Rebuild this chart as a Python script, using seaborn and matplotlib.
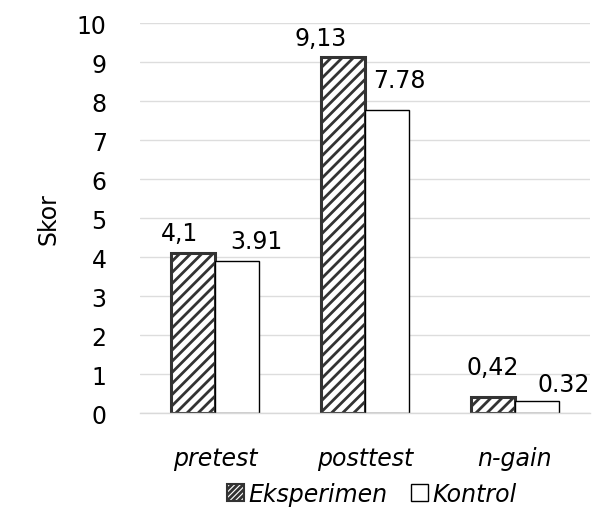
import pandas as pd
import numpy as np
import matplotlib
matplotlib.use('Agg')
import matplotlib.pyplot as plt
import seaborn as sns
from matplotlib.patches import Patch

# data
kategori = ['pretest', 'posttest', 'n-gain']
kelompok = ['Eksperimen', 'Kontrol']
skor_eksperimen = [4.1, 9.13, 0.42]
skor_kontrol = [3.91, 7.78, 0.32]
label_eksperimen = ['4,1', '9,13', '0,42']   # koma desimal seperti aslinya
label_kontrol = ['3.91', '7.78', '0.32']

df = pd.DataFrame({
    'kategori': kategori * 2,
    'kelompok': [kelompok[0]] * 3 + [kelompok[1]] * 3,
    'skor': skor_eksperimen + skor_kontrol,
})

sns.set_style('white')
plt.rcParams['font.family'] = ['DejaVu Sans']
plt.rcParams['text.color'] = 'black'
plt.rcParams['xtick.color'] = 'black'
plt.rcParams['ytick.color'] = 'black'
plt.rcParams['axes.labelcolor'] = 'black'
plt.rcParams['hatch.linewidth'] = 2.0
plt.rcParams['hatch.color'] = '#222222'

fig = plt.figure(figsize=(6, 5.1), dpi=100)
ax = fig.add_axes([0.2333, 0.1882, 0.75, 0.7647])

sns.barplot(data=df, x='kategori', y='skor', hue='kelompok', order=kategori,
            hue_order=kelompok, width=0.59, gap=0, legend=False, ax=ax,
            palette=['white', 'white'], saturation=1, errorbar=None)

# gaya batang
for bar in ax.containers[0]:
    bar.set_hatch('///')
    bar.set_edgecolor('#333333')
    bar.set_linewidth(2.2)
for bar in ax.containers[1]:
    bar.set_edgecolor('black')
    bar.set_linewidth(1.0)

# label nilai (posisi digeser manual seperti di Excel)
geser_eks = [(-13, 8), (-22, 7), (0, 18)]
geser_kon = [(19, 8), (12, 18), (27, 5)]
for bar, lab, (dx, dy) in zip(ax.containers[0], label_eksperimen, geser_eks):
    ax.annotate(lab, (bar.get_x() + bar.get_width() / 2, bar.get_height()),
                xytext=(dx, dy), textcoords='offset pixels', ha='center', va='bottom', fontsize=17)
for bar, lab, (dx, dy) in zip(ax.containers[1], label_kontrol, geser_kon):
    ax.annotate(lab, (bar.get_x() + bar.get_width() / 2, bar.get_height()),
                xytext=(dx, dy), textcoords='offset pixels', ha='center', va='bottom', fontsize=17)

ax.set_ylim(0, 10)
ax.set_xlim(-0.5, 2.5)
ax.set_yticks(range(0, 11))
ax.yaxis.grid(True, color='#dddddd', linewidth=1.0)
ax.set_axisbelow(True)
for s in ['top', 'right', 'left']:
    ax.spines[s].set_visible(False)
ax.spines['bottom'].set_color('#d9d9d9')
ax.spines['bottom'].set_linewidth(1.0)
ax.tick_params(axis='y', length=0, labelsize=17, pad=24)
ax.tick_params(axis='x', length=0, labelsize=17, pad=24)
for t in ax.get_xticklabels():
    t.set_style('italic')
ax.set_xlabel('')
ax.set_ylabel('Skor', fontsize=17, labelpad=12)

handles = [Patch(facecolor='white', edgecolor='#333333', hatch='//////', linewidth=1.5),
           Patch(facecolor='white', edgecolor='black', linewidth=1.0)]
leg = fig.legend(handles, kelompok, loc='center', bbox_to_anchor=(0.62, 0.03), ncol=2,
                 frameon=False, handlelength=0.7, handleheight=0.7, handletextpad=0.2,
                 columnspacing=1.0, prop={'size': 17, 'style': 'italic'})

fig.savefig('out.png', dpi=100)
